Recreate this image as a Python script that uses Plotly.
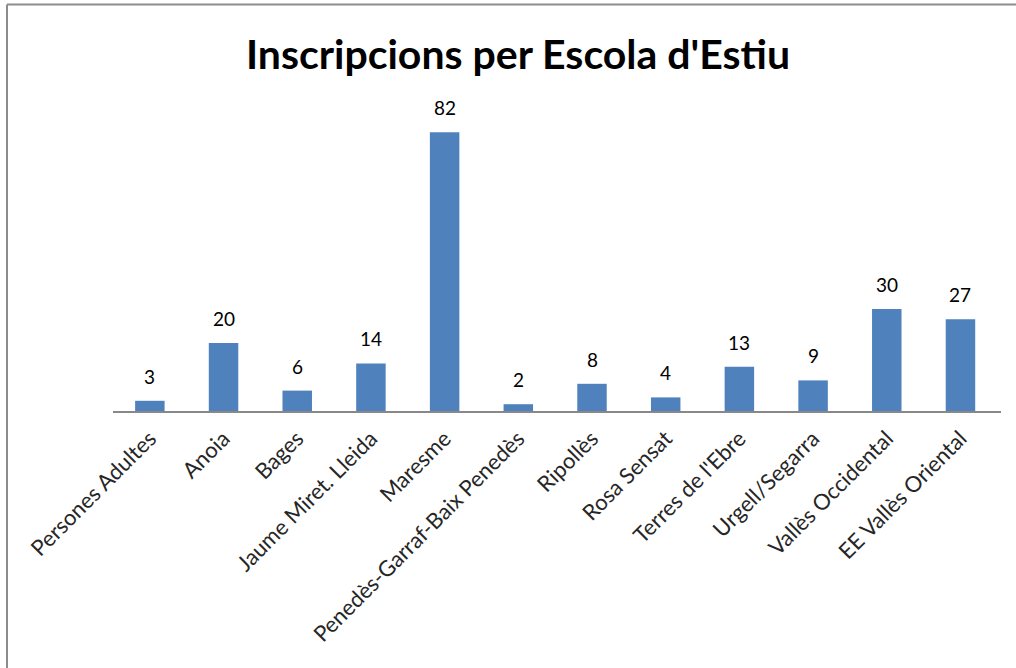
import plotly.graph_objects as go

categories = ["Persones Adultes", "Anoia", "Bages", "Jaume Miret. Lleida", "Maresme",
              "Penedès-Garraf-Baix Penedès", "Ripollès", "Rosa Sensat", "Terres de l'Ebre",
              "Urgell/Segarra", "Vallès Occidental", "EE Vallès Oriental"]
values = [3, 20, 6, 14, 82, 2, 8, 4, 13, 9, 30, 27]
title_text = "Inscripcions per Escola d'Estiu"

W, H = 1016, 668
L, R, T, B = 113, 15, 105, 257
FONT = "Lato, Open Sans, Arial"
BLUE = "#4F81BD"

fig = go.Figure()
fig.add_trace(go.Bar(x=categories, y=values, marker=dict(color=BLUE, line=dict(width=0)),
                     hoverinfo="x+y"))

for c, v in zip(categories, values):
    fig.add_annotation(x=c, y=v, text=str(v), showarrow=False, yanchor="bottom",
                       yshift=11, font=dict(family=FONT, size=19, color="#000000"))

pw = W - L - R
ph = H - T - B
def px_x(p):
    return (p - L) / pw
def px_y(p):
    return (H - B - p) / ph

# chart border (top and left visible)
fig.add_shape(type="line", xref="paper", yref="paper", x0=px_x(7), x1=px_x(1016),
              y0=px_y(4.5), y1=px_y(4.5), line=dict(color="#8c8c8c", width=2))
fig.add_shape(type="line", xref="paper", yref="paper", x0=px_x(7), x1=px_x(7),
              y0=px_y(4.5), y1=px_y(668), line=dict(color="#8c8c8c", width=2))

fig.update_layout(
    width=W, height=H,
    margin=dict(l=L, r=R, t=T, b=B, autoexpand=False),
    paper_bgcolor="white", plot_bgcolor="white",
    bargap=0.6, showlegend=False,
    title=dict(text="<b>" + title_text + "</b>", x=518 / W, xref="container", xanchor="center",
               y=1 - 55 / H, yanchor="middle",
               font=dict(family=FONT, size=41, color="#000000")),
    xaxis=dict(tickangle=-45, showline=True, linecolor="#888888", linewidth=2,
               ticks="", showgrid=False, ticklabelstandoff=4,
               tickfont=dict(family=FONT, size=22, color="#262626"),
               range=[-0.5, 11.55]),
    yaxis=dict(range=[0, 90], visible=False, showgrid=False, zeroline=False),
)

fig.write_html("out.html", config={"displayModeBar": False},
               post_script="document.body.style.margin='0';document.body.style.overflow='hidden';")
